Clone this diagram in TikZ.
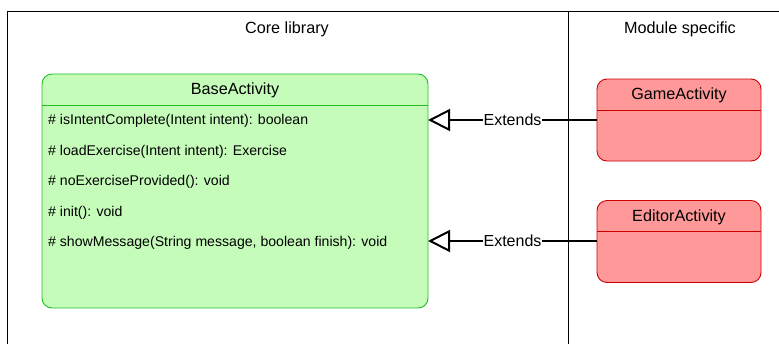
\documentclass[tikz,border=0pt]{standalone}
\usepackage{fontspec}
\setmainfont{Liberation Sans}
\usetikzlibrary{arrows.meta}
\definecolor{basefill}{RGB}{197,252,185}
\definecolor{basedraw}{RGB}{34,187,34}
\definecolor{modfill}{RGB}{255,153,153}
\definecolor{moddraw}{RGB}{204,0,0}
\tikzset{
  classbox/.style={rounded corners=10pt, line width=0.9pt},
  coreclass/.style={classbox, fill=basefill, draw=basedraw},
  modclass/.style={classbox, fill=modfill, draw=moddraw},
  classtitle/.style={font=\fontsize{16.2}{18}\selectfont, inner sep=0pt},
  member/.style={font=\fontsize{14.1}{16}\selectfont, anchor=west, inner sep=0pt},
  lanetitle/.style={font=\fontsize{16.2}{18}\selectfont, inner sep=0pt},
  extends/.style={line width=2pt, -{Triangle[open, length=22pt, width=22pt, line width=2pt]}},
  extlabel/.style={font=\fontsize{16}{18}\selectfont, fill=white, inner sep=1pt}
}
\begin{document}
\begin{tikzpicture}[x=1pt, y=-1pt]
\useasboundingbox (0,0) rectangle (779,343);
\begin{scope}
\clip (0,0) rectangle (779,343);
% swimlane frame
\draw[line width=1pt] (7,360) -- (7,11) -- (790,11);
\draw[line width=1pt] (568,11) -- (568,360);
\end{scope}
\node[lanetitle] (core) at (287,29) {Core library};
\node[lanetitle] (mod) at (680,29) {Module specific};

% BaseActivity
\draw[coreclass] (42,74) rectangle (428,308);
\draw[basedraw, line width=0.9pt] (42,105.5) -- (428,105.5);
\node[classtitle] (basetitle) at (235,90.5) {BaseActivity};
\coordinate (baseA) at (428,120);
\coordinate (baseB) at (428,241);
\node[member] (m1) at (48,121) {\# isIntentComplete(Intent intent): boolean};
\node[member] (m2) at (48,151.5) {\# loadExercise(Intent intent): Exercise};
\node[member] (m3) at (48,182) {\# noExerciseProvided(): void};
\node[member] (m4) at (48,212.5) {\# init(): void};
\node[member] (m5) at (48,243) {\# showMessage(String message, boolean finish): void};

% GameActivity
\draw[modclass] (597,79) rectangle (761,161);
\draw[moddraw, line width=0.9pt] (597,110) -- (761,110);
\node[classtitle] (gametitle) at (679,95.5) {GameActivity};
\coordinate (game) at (597,120);

% EditorActivity
\draw[modclass] (597,200.5) rectangle (761,282.5);
\draw[moddraw, line width=0.9pt] (597,231.5) -- (761,231.5);
\node[classtitle] (edittitle) at (679,217) {EditorActivity};
\coordinate (editor) at (597,241);

% inheritance connectors
\draw[extends] (game) -- (baseA) node[extlabel, pos=0.5] {Extends};
\draw[extends] (editor) -- (baseB) node[extlabel, pos=0.5] {Extends};
\end{tikzpicture}
\end{document}
